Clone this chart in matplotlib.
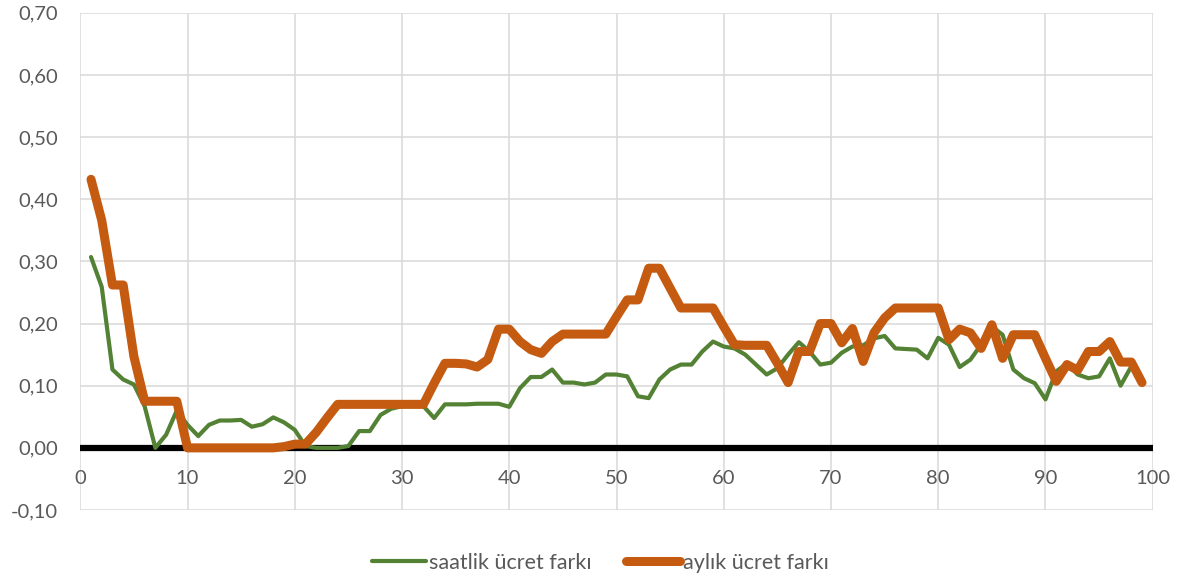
import numpy as np
import matplotlib
matplotlib.use('Agg')
import matplotlib.pyplot as plt
from matplotlib.ticker import FuncFormatter, MultipleLocator

plt.rcParams['font.family'] = ['Lato', 'DejaVu Sans']

# saatlik ücret farkı (x = 1..98)
saatlik = [0.307, 0.259, 0.126, 0.110, 0.102, 0.067, 0.000, 0.021, 0.060, 0.037,
           0.019, 0.037, 0.044, 0.044, 0.045, 0.034, 0.038, 0.049, 0.041, 0.029,
           0.003, 0.000, 0.000, 0.000, 0.003, 0.027, 0.027, 0.053, 0.063, 0.067,
           0.067, 0.067, 0.048, 0.070, 0.070, 0.070, 0.071, 0.071, 0.071, 0.066,
           0.096, 0.114, 0.114, 0.126, 0.105, 0.105, 0.102, 0.105, 0.118, 0.118,
           0.115, 0.083, 0.080, 0.110, 0.126, 0.134, 0.134, 0.155, 0.171, 0.163,
           0.160, 0.150, 0.134, 0.118, 0.128, 0.150, 0.170, 0.155, 0.134, 0.137,
           0.153, 0.163, 0.165, 0.176, 0.180, 0.160, 0.159, 0.158, 0.144, 0.177,
           0.166, 0.130, 0.142, 0.166, 0.195, 0.182, 0.126, 0.112, 0.104, 0.078,
           0.123, 0.136, 0.118, 0.112, 0.115, 0.144, 0.100, 0.131]

# aylık ücret farkı (x = 1..99)
aylik = [0.432, 0.366, 0.262, 0.262, 0.147, 0.075, 0.075, 0.075, 0.075, 0.000,
         0.000, 0.000, 0.000, 0.000, 0.000, 0.000, 0.000, 0.000, 0.002, 0.006,
         0.006, 0.025, 0.048, 0.070, 0.070, 0.070, 0.070, 0.070, 0.070, 0.070,
         0.070, 0.070, 0.104, 0.136, 0.136, 0.135, 0.130, 0.142, 0.191, 0.191,
         0.171, 0.158, 0.152, 0.171, 0.183, 0.183, 0.183, 0.183, 0.183, 0.211,
         0.238, 0.238, 0.289, 0.289, 0.257, 0.225, 0.225, 0.225, 0.225, 0.195,
         0.166, 0.165, 0.165, 0.165, 0.136, 0.105, 0.155, 0.155, 0.200, 0.200,
         0.169, 0.192, 0.139, 0.185, 0.209, 0.225, 0.225, 0.225, 0.225, 0.225,
         0.174, 0.191, 0.185, 0.160, 0.198, 0.144, 0.182, 0.182, 0.182, 0.144,
         0.107, 0.134, 0.125, 0.155, 0.155, 0.171, 0.138, 0.138, 0.105]

x_saat = np.arange(1, len(saatlik) + 1)
x_ay = np.arange(1, len(aylik) + 1)

green = '#548235'
orange = '#C55A11'
gray = '#595959'

fig = plt.figure(figsize=(11.84, 5.78), dpi=100)
ax = fig.add_axes([0.0678, 0.1176, 0.9058, 0.8604])

ax.set_xlim(0, 100)
ax.set_ylim(-0.10, 0.70)
ax.xaxis.set_major_locator(MultipleLocator(10))
ax.yaxis.set_major_locator(MultipleLocator(0.10))
ax.grid(True, color='#D9D9D9', linewidth=1.1)
ax.set_axisbelow(True)

for s in ['top', 'right', 'left']:
    ax.spines[s].set_visible(False)
ax.spines['bottom'].set_position(('data', 0))
ax.spines['bottom'].set_color('none')

ax.axhline(0, color='black', linewidth=4.5, zorder=2)

ax.plot(x_saat, saatlik, color=green, linewidth=3.0, solid_joinstyle='round',
        solid_capstyle='round', label='saatlik ücret farkı', zorder=3)
ax.plot(x_ay, aylik, color=orange, linewidth=6.5, solid_joinstyle='round',
        solid_capstyle='round', label='aylık ücret farkı', zorder=4)

ax.yaxis.set_major_formatter(FuncFormatter(lambda v, p: f'{v:.2f}'.replace('.', ',')))
ax.tick_params(axis='both', length=0, labelsize=14.5, labelcolor=gray)
ax.tick_params(axis='x', pad=16)
ax.tick_params(axis='y', pad=16)

fig.legend(loc='center', bbox_to_anchor=(0.507, 0.026), ncol=2, frameon=False,
           fontsize=15.5, labelcolor=gray, handlelength=2.5, handletextpad=0.15,
           columnspacing=1.6)

fig.savefig('out.png', dpi=100)
